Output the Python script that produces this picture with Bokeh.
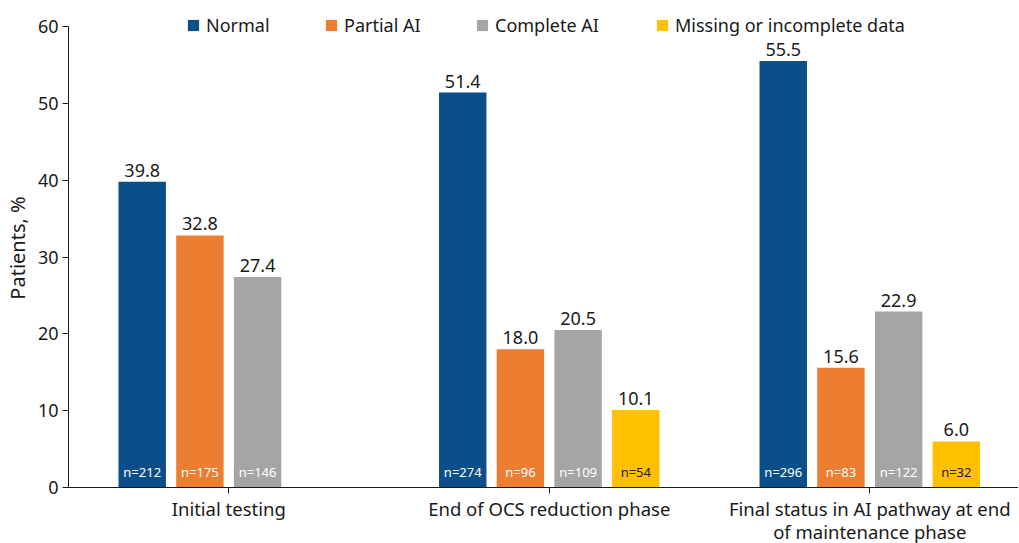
from bokeh.plotting import figure
from bokeh.models import ColumnDataSource, Range1d, FixedTicker, Legend, LegendItem
from bokeh.core.properties import value
from bokeh.embed import file_html
from bokeh.resources import INLINE

categories = ["Initial testing", "End of OCS reduction phase",
              "Final status in AI pathway at end\nof maintenance phase"]
series = ["Normal", "Partial AI", "Complete AI", "Missing or incomplete data"]
colors = ["#0B4F8A", "#ED7D31", "#A5A5A5", "#FFC000"]
n_colors = ["white", "white", "white", "#222222"]

normal = [39.8, 51.4, 55.5]
partial_ai = [32.8, 18.0, 15.6]
complete_ai = [27.4, 20.5, 22.9]
missing = [None, 10.1, 6.0]

n_normal = [212, 274, 296]
n_partial = [175, 96, 83]
n_complete = [146, 109, 122]
n_missing = [None, 54, 32]

y_ticks = [0, 10, 20, 30, 40, 50, 60]

values = [normal, partial_ai, complete_ai, missing]
ns = [n_normal, n_partial, n_complete, n_missing]
offsets = [-0.27, -0.09, 0.09, 0.27]
bar_w = 0.148
legend_x = [118, 256, 407, 587]   # screen px from frame left

FONT = "Noto Sans"
TXT = "#1a1a1a"

# frame extends a little above 60 so that the legend (inside the frame) is not clipped
p = figure(frame_width=950, frame_height=479, output_backend="svg", toolbar_location=None,
           x_range=Range1d(-0.5, 2.464), y_range=Range1d(0, 62.343),
           min_border_left=61, min_border_right=0, min_border_top=8, min_border_bottom=20)
p.outline_line_color = None
p.grid.visible = False
p.background_fill_color = "white"

for k in range(4):
    xs, ys, labs, nlabs = [], [], [], []
    for i in range(3):
        v = values[k][i]
        if v is None:
            continue
        xs.append(i + offsets[k])
        ys.append(v)
        labs.append(f"{v:.1f}")
        nlabs.append(f"n={ns[k][i]}")
    src = ColumnDataSource(dict(x=xs, top=ys, lab=labs, nlab=nlabs, zero=[0] * len(xs)))
    r = p.vbar(x="x", top="top", width=bar_w, bottom=0, source=src,
               fill_color=colors[k], line_color=None)
    p.text(x="x", y="top", text="lab", source=src, text_align="center",
           text_baseline="bottom", y_offset=-5, text_font=value(FONT),
           text_font_size="18px", text_color=TXT)
    p.text(x="x", y="zero", text="nlab", source=src, text_align="center",
           text_baseline="bottom", y_offset=-7, text_font=value(FONT),
           text_font_size="13px", text_color=n_colors[k])
    leg = Legend(items=[LegendItem(label=series[k], renderers=[r])],
                 location=(legend_x[k], 450), orientation="horizontal",
                 glyph_width=14, glyph_height=14, label_standoff=6,
                 padding=0, margin=0, border_line_color=None, background_fill_alpha=0,
                 label_text_font=FONT, label_text_font_size="18px",
                 label_text_color=TXT, label_height=14)
    p.add_layout(leg, "center")

p.xaxis.ticker = FixedTicker(ticks=list(range(len(categories))))
p.xaxis.major_label_overrides = {i: c for i, c in enumerate(categories)}
p.xaxis.minor_tick_line_color = None
p.xaxis.major_tick_out = 6
p.xaxis.major_tick_in = 0
p.xaxis.major_label_standoff = 2
p.xaxis.major_label_text_font = FONT
p.xaxis.major_label_text_font_size = "18.5px"
p.xaxis.major_label_text_line_height = 0.92
p.xaxis.major_label_text_color = TXT
p.xaxis.axis_line_color = TXT
p.xaxis.major_tick_line_color = TXT

p.yaxis.ticker = FixedTicker(ticks=y_ticks)
p.yaxis.bounds = (y_ticks[0], y_ticks[-1])
p.yaxis.minor_tick_line_color = None
p.yaxis.major_tick_out = 6
p.yaxis.major_tick_in = 0
p.yaxis.major_label_standoff = 4
p.yaxis.axis_label = "Patients, %"
p.yaxis.axis_label_text_font = FONT
p.yaxis.axis_label_text_font_style = "normal"
p.yaxis.axis_label_text_font_size = "20px"
p.yaxis.axis_label_standoff = 4
p.yaxis.major_label_text_font = FONT
p.yaxis.major_label_text_font_size = "18px"
p.yaxis.major_label_text_color = TXT
p.yaxis.axis_label_text_color = TXT
p.yaxis.axis_line_color = TXT
p.yaxis.major_tick_line_color = TXT

open("out.html", "w").write(file_html(p, INLINE))
